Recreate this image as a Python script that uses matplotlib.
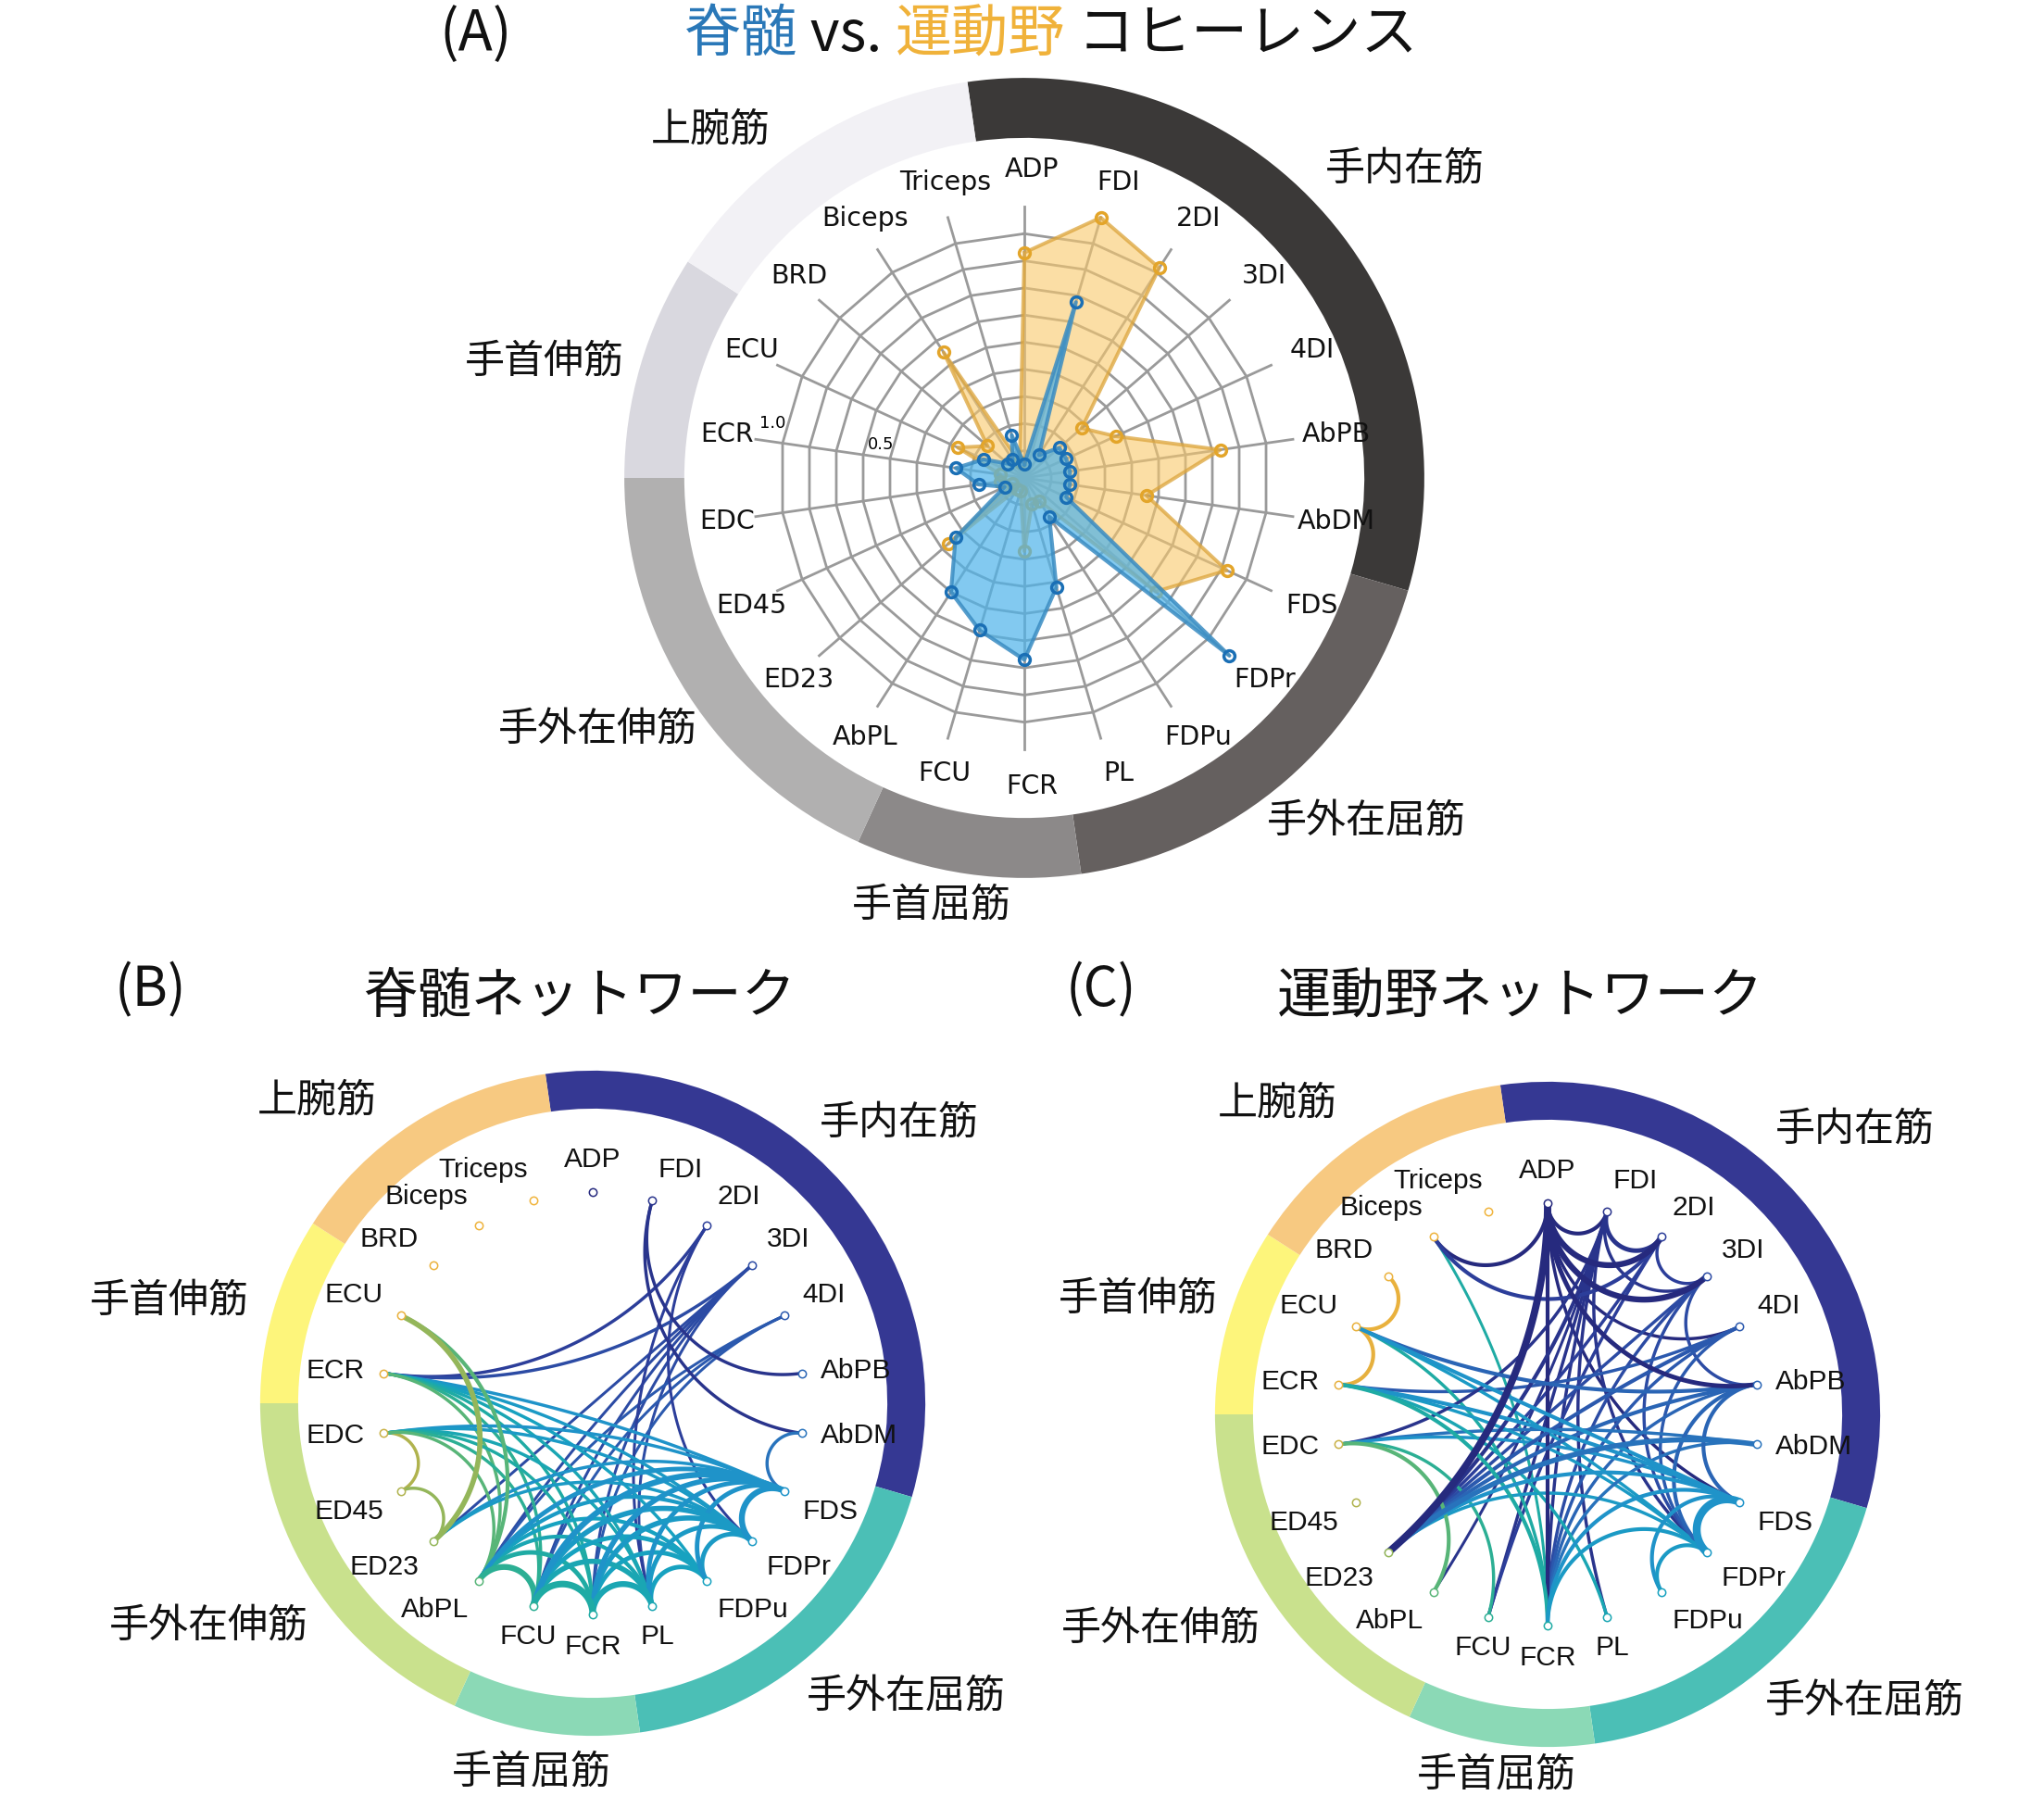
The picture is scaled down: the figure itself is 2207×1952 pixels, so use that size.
import numpy as np
import matplotlib
matplotlib.use("Agg")
import matplotlib.pyplot as plt
from matplotlib.patches import Wedge
from matplotlib.colors import LinearSegmentedColormap
from matplotlib.transforms import offset_copy

W, H = 2207, 1952
CJK = ['Noto Sans CJK JP', 'DejaVu Sans']
plt.rcParams['font.family'] = CJK

# ---------------- data ----------------
muscles = ['ADP', 'FDI', '2DI', '3DI', '4DI', 'AbPB', 'AbDM', 'FDS', 'FDPr', 'FDPu', 'PL',
           'FCR', 'FCU', 'AbPL', 'ED23', 'ED45', 'EDC', 'ECR', 'ECU', 'BRD', 'Biceps', 'Triceps']
spinal_coh = [0.05, 0.675, 0.10, 0.17, 0.17, 0.17, 0.17, 0.17, 1.00, 0.17, 0.42,
              0.67, 0.585, 0.50, 0.335, 0.08, 0.17, 0.255, 0.165, 0.08, 0.08, 0.165]
motor_coh = [0.83, 1.00, 0.92, 0.28, 0.37, 0.73, 0.455, 0.82, 0.64, 0.10, 0.10,
             0.27, 0.05, 0.05, 0.37, 0.05, 0.09, 0.09, 0.27, 0.18, 0.55, 0.06]

groups = ['手内在筋', '手外在屈筋', '手首屈筋', '手外在伸筋', '手首伸筋', '上腕筋']
group_sizes = [7, 4, 2, 4, 2, 3]
gray_colors = ['#3b3938', '#65605f', '#8c8989', '#b1b0b0', '#d9d8df', '#f2f1f5']
net_colors = ['#353893', '#4bbfb6', '#8bd9b6', '#c9e18d', '#fdf57b', '#f7c981']

spinal_edges = [
    ('ECU', 'ED23', 3), ('ECU', 'AbPL', 2), ('EDC', 'ED45', 1.5), ('ED45', 'ED23', 1.5),
    ('ECR', '2DI', 1.5), ('ECR', '3DI', 1.5), ('ECR', 'FDS', 1.5), ('ECR', 'FDPr', 1.5),
    ('ECR', 'FDPu', 1.5), ('ECR', 'PL', 1.5), ('ECR', 'FCR', 1.5), ('ECR', 'FCU', 1.5),
    ('ECR', 'AbPL', 1.5),
    ('EDC', 'FDS', 1.5), ('EDC', 'FDPr', 1.5), ('EDC', 'PL', 1.5), ('EDC', 'FCR', 1.5),
    ('EDC', 'FCU', 1.5), ('EDC', 'AbPL', 1.5),
    ('ED23', '3DI', 1.2), ('ED23', 'FDS', 1.5), ('ED23', 'FDPr', 1.5),
    ('3DI', 'AbPL', 1.2), ('3DI', 'FCU', 1.2), ('3DI', 'FCR', 1.2), ('3DI', 'PL', 1.2),
    ('4DI', 'AbPL', 1.2), ('4DI', 'FCU', 1.2), ('4DI', 'FCR', 1.2),
    ('2DI', 'FDPr', 1.2), ('2DI', 'PL', 1.2),
    ('FDI', 'AbPB', 1.5), ('FDI', 'AbDM', 1.5), ('AbDM', 'FDS', 1.5),
    ('AbPL', 'FCU', 3.5), ('FCU', 'FCR', 4), ('FCR', 'PL', 3.5), ('PL', 'FDPu', 2.5),
    ('FDPu', 'FDPr', 2.5), ('FDPr', 'FDS', 3.5),
    ('AbPL', 'FCR', 2.5), ('AbPL', 'PL', 2), ('AbPL', 'FDPu', 2), ('AbPL', 'FDPr', 2),
    ('AbPL', 'FDS', 2.5), ('FCU', 'PL', 3), ('FCU', 'FDPu', 2.5), ('FCU', 'FDPr', 3),
    ('FCU', 'FDS', 3.5), ('FCR', 'FDPu', 2.5), ('FCR', 'FDPr', 3), ('FCR', 'FDS', 3),
    ('PL', 'FDPr', 2.5), ('PL', 'FDS', 2.5), ('FDPu', 'FDS', 2.5),
]

motor_edges = [
    ('Biceps', 'ADP', 2), ('Biceps', '2DI', 2), ('Biceps', 'FCR', 1.2),
    ('ADP', 'FDI', 2), ('FDI', '2DI', 2.5), ('ADP', '2DI', 3.5), ('ADP', '3DI', 3.5),
    ('FDI', '3DI', 1.5), ('2DI', '3DI', 1.5),
    ('ADP', 'AbPB', 2.5), ('ADP', '4DI', 1.5), ('ADP', 'FDS', 1.5), ('ADP', 'ED23', 4.5),
    ('ADP', 'FCR', 2),
    ('FDI', 'ED23', 2), ('FDI', 'FCR', 1.5), ('FDI', 'FCU', 1.5), ('FDI', 'PL', 1.5),
    ('FDI', 'FDPr', 1.5), ('FDI', 'AbPL', 1.2),
    ('2DI', 'ED23', 1.5), ('2DI', 'FCU', 1.5),
    ('3DI', 'ED23', 1.5), ('3DI', 'AbPB', 1.5), ('3DI', 'FDPr', 1.5), ('3DI', 'FCR', 1.5),
    ('4DI', 'ED23', 2), ('4DI', 'FDPr', 1.5), ('4DI', 'FCR', 1.5), ('4DI', 'ECR', 1.5),
    ('AbPB', 'ECU', 2), ('AbPB', 'FDS', 2), ('AbPB', 'FDPr', 2), ('AbPB', 'ED23', 2),
    ('AbPB', 'FCR', 1.5),
    ('AbDM', 'ED23', 3), ('AbDM', 'EDC', 1.5),
    ('BRD', 'ECU', 2), ('ECU', 'ECR', 2),
    ('ECU', 'FDS', 2), ('ECU', 'FDPr', 1.5), ('ECU', 'FCR', 1.5),
    ('ECR', 'FDS', 2), ('ECR', 'FDPr', 1.5), ('ECR', 'FCR', 2),
    ('EDC', 'FDI', 1.5), ('EDC', 'AbPL', 2), ('EDC', 'FCU', 1.5), ('EDC', 'FDS', 1.5),
    ('ED23', 'FDS', 2), ('ED23', 'FDPr', 1.5),
    ('FDS', 'FDPr', 5), ('FDS', 'FDPu', 2), ('FDPr', 'FDPu', 2), ('FDS', 'FCR', 2),
    ('FDPr', 'FCR', 2), ('FCR', 'AbDM', 1.5), ('PL', 'ECR', 1.5),
]

# ---------------- style ----------------
edge_cmap = LinearSegmentedColormap.from_list('edge', [
    (0.00, '#262a7e'), (0.10, '#2c3f9c'), (0.20, '#2b5cb0'), (0.29, '#2874bd'),
    (0.333, '#1f93c9'), (0.43, '#17a2c0'), (0.52, '#1eaaa6'), (0.57, '#2aaf95'),
    (0.62, '#58b578'), (0.67, '#98b658'), (0.72, '#b4b24c'), (0.78, '#d0b044'),
    (0.81, '#e6b03e'), (1.00, '#f0b43c')])

N = len(muscles)
step = 2 * np.pi / N
idx = {m: i for i, m in enumerate(muscles)}

fig = plt.figure(figsize=(W / 100, H / 100), dpi=100)

# ---------------- (A) radar ----------------
UNIT_A = 293.0
RMAX = 1.48
cxA, cyA = 1106, 516
S = 2 * RMAX * UNIT_A
axA = fig.add_axes([(cxA - S / 2) / W, (H - cyA - S / 2) / H, S / W, S / H], projection='polar')
axA.set_theta_zero_location('N')
axA.set_theta_direction(-1)
axA.set_ylim(0, RMAX)
axA.set_axis_off()

theta = np.arange(N) * step
theta_c = np.append(theta, theta[0])
for k in range(1, 10):
    axA.plot(theta_c, np.full(N + 1, k / 10), color='#9a9a9a', lw=2.0, zorder=1)
for t in theta:
    axA.plot([t, t], [0, 1.0], color='#9a9a9a', lw=2.0, zorder=1)

mv = np.append(motor_coh, motor_coh[0])
sv = np.append(spinal_coh, spinal_coh[0])
axA.fill(theta_c, mv, color='#f9c86a', alpha=0.6, lw=0, zorder=2)
axA.plot(theta_c, mv, color='#dca43a', alpha=0.75, lw=2.8, zorder=3)
axA.plot(theta, motor_coh, ls='none', marker='o', ms=8.5, mfc='none', mec='#e3a52a',
         mew=2.5, zorder=4)
axA.fill(theta_c, sv, color='#4db3ea', alpha=0.7, lw=0, zorder=5)
axA.plot(theta_c, sv, color='#3a8cc2', alpha=0.85, lw=3.0, zorder=6)
axA.plot(theta, spinal_coh, ls='none', marker='o', ms=8.5, mfc='none', mec='#1a6fb5',
         mew=2.5, zorder=7)

# group ring
r_in, r_out = 1.253, 1.474
start = 0
for g, n in enumerate(group_sizes):
    t0 = (start - 0.5) * step
    axA.bar(t0 + n * step / 2, r_out - r_in, width=n * step, bottom=r_in,
            color=gray_colors[g], edgecolor='none', zorder=1)
    start += n

lab_tr = offset_copy(axA.transData, fig=fig, x=8, y=0, units='dots')
for i, m in enumerate(muscles):
    axA.text(theta[i], 1.135, m, transform=lab_tr, ha='center', va='center',
             fontsize=20.5, family='DejaVu Sans', color='#111111')
tk1 = offset_copy(axA.transData, fig=fig, x=4, y=8, units='dots')
tk2 = offset_copy(axA.transData, fig=fig, x=-10, y=6, units='dots')
axA.text(theta[idx['ECR']], 1.0, '1.0', transform=tk1, ha='left', va='bottom',
         fontsize=13, family='DejaVu Sans')
axA.text(theta[idx['ECR']], 0.5, '0.5', transform=tk2, ha='center', va='bottom',
         fontsize=13, family='DejaVu Sans')

# group labels A (pixel layout)
grpA_pos = {'上腕筋': (767, 141), '手内在筋': (1517, 183), '手首伸筋': (588, 391),
            '手外在伸筋': (645, 788), '手外在屈筋': (1475, 887), '手首屈筋': (1006, 978)}
for g, (px, py) in grpA_pos.items():
    fig.text(px / W, 1 - py / H, g, ha='center', va='center', fontsize=31, color='#111111')

# title A
fig.text(514 / W, 1 - 38 / H, '(A)', ha='center', va='center', fontsize=44, color='#111111')
renderer = fig.canvas.get_renderer()
x = 739
for piece, col in [('脊髄', '#2a78b8'), (' vs. ', '#111111'), ('運動野', '#f0b23a'),
                   (' コヒーレンス', '#111111')]:
    t = fig.text(x / W, 1 - 38 / H, piece, ha='left', va='center', fontsize=44, color=col)
    x += t.get_window_extent(renderer).width

# ---------------- (B), (C) networks ----------------
UNIT_N = 228.0
L = 1.7


def geodesic(a, b, n=120):
    pa = np.array([np.cos(a), np.sin(a)])
    pb = np.array([np.cos(b), np.sin(b)])
    d = (b - a + np.pi) % (2 * np.pi) - np.pi
    if abs(abs(d) - np.pi) < 1e-3 or abs(d) < 1e-6:
        tt = np.linspace(0, 1, n)[:, None]
        p = pa + (pb - pa) * tt
        return p[:, 0], p[:, 1]
    m = a + d / 2
    dist = 1 / np.cos(d / 2)
    rho = abs(np.tan(d / 2))
    c = dist * np.array([np.cos(m), np.sin(m)])
    fa = np.arctan2(*(pa - c)[::-1])
    fb = np.arctan2(*(pb - c)[::-1])
    df = (fb - fa + np.pi) % (2 * np.pi) - np.pi
    f = fa + np.linspace(0, 1, n) * df
    return c[0] + rho * np.cos(f), c[1] + rho * np.sin(f)


def network(cx, cy, edges, grp_pos, title, letter, title_x):
    ax = fig.add_axes([(cx - L * UNIT_N) / W, (H - cy - L * UNIT_N) / H,
                       2 * L * UNIT_N / W, 2 * L * UNIT_N / H])
    ax.set_xlim(-L, L)
    ax.set_ylim(-L, L)
    ax.set_aspect('equal')
    ax.set_axis_off()
    ang = np.pi / 2 - np.arange(N) * step
    # ring
    start = 0
    for g, n in enumerate(group_sizes):
        th2 = np.degrees(np.pi / 2 - (start - 0.5) * step)
        th1 = np.degrees(np.pi / 2 - (start + n - 0.5) * step)
        ax.add_patch(Wedge((0, 0), 1.575, th1, th2, width=0.18, color=net_colors[g], lw=0))
        start += n
    # edges
    for a, b, w in sorted(edges, key=lambda e: e[2]):
        i, j = idx[a], idx[b]
        xs, ys = geodesic(ang[i], ang[j])
        ax.plot(xs, ys, color=edge_cmap(min(i, j) / (N - 1)), lw=0.9 + 1.05 * w,
                solid_capstyle='round', zorder=2)
    # nodes
    for i, m in enumerate(muscles):
        ax.plot(np.cos(ang[i]), np.sin(ang[i]), 'o', ms=6, mfc='white',
                mec=edge_cmap(i / (N - 1)), mew=1.1, zorder=3)
        c, s = np.cos(ang[i]), np.sin(ang[i])
        thr = 0.2 if s > 0 else 0.3
        ha = 'left' if c > thr else ('right' if c < -thr else 'center')
        va = 'bottom' if s > 0.3 else ('top' if s < -0.3 else 'center')
        ax.text(1.09 * c, 1.09 * s, m, ha=ha, va=va, fontsize=21.5,
                family='Liberation Sans', color='#111111')
    for g, (gx, gy) in grp_pos.items():
        ax.text(gx, gy, g, ha='center', va='center', fontsize=31, color='#111111',
                clip_on=False)
    fig.text(letter[1] / W, 1 - 1070 / H, letter[0], ha='center', va='center',
             fontsize=42, color='#111111')
    fig.text(title_x / W, 1 - 1077 / H, title, ha='center', va='center', fontsize=42,
             color='#111111')


grpB = {'上腕筋': (-1.307, 1.430), '手内在筋': (1.452, 1.325), '手首伸筋': (-2.004, 0.482),
        '手外在伸筋': (-1.820, -1.057), '手外在屈筋': (1.483, -1.390), '手首屈筋': (-0.289, -1.75)}
grpC = {'上腕筋': (-1.281, 1.469), '手内在筋': (1.456, 1.346), '手首伸筋': (-1.939, 0.544),
        '手外在伸筋': (-1.833, -1.018), '手外在屈筋': (1.50, -1.36), '手首屈筋': (-0.241, -1.711)}

network(640, 1515, spinal_edges, grpB, '脊髄ネットワーク', ('(B)', 162), 626)
network(1671, 1527, motor_edges, grpC, '運動野ネットワーク', ('(C)', 1189), 1642)

fig.savefig('out.png', dpi=100)
